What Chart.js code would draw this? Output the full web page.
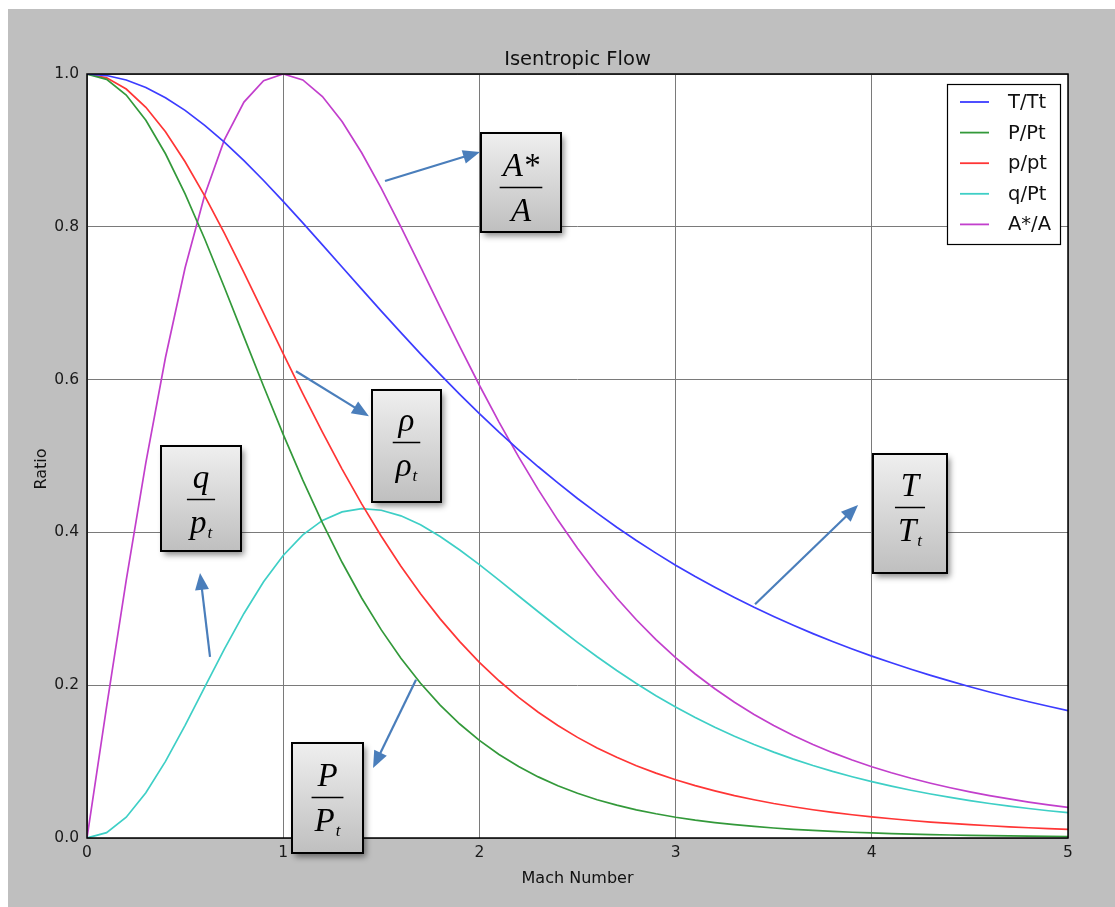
<!DOCTYPE html>
<html>
<head>
<meta charset="utf-8">
<script src="https://cdn.jsdelivr.net/npm/chart.js@4.4.1/dist/chart.umd.min.js"></script>
<style>
  html, body { margin: 0; padding: 0; background: #ffffff; }
  canvas { display: block; }
</style>
</head>
<body>
<canvas id="chart" width="1115" height="907"></canvas>
<script>
// Mach number samples
const machNumbers = [0.0,0.1,0.2,0.3,0.4,0.5,0.6,0.7,0.8,0.9,1.0,1.1,1.2,1.3,1.4,1.5,1.6,1.7,1.8,1.9,2.0,
  2.1,2.2,2.3,2.4,2.5,2.6,2.7,2.8,2.9,3.0,3.1,3.2,3.3,3.4,3.5,3.6,3.7,3.8,3.9,4.0,
  4.1,4.2,4.3,4.4,4.5,4.6,4.7,4.8,4.9,5.0];

// T/Tt
const tempRatio = [1.0000,0.9980,0.9921,0.9823,0.9690,0.9524,0.9328,0.9107,0.8865,0.8606,0.8333,
  0.8052,0.7764,0.7474,0.7184,0.6897,0.6614,0.6337,0.6068,0.5807,0.5556,
  0.5313,0.5081,0.4859,0.4647,0.4444,0.4252,0.4068,0.3894,0.3729,0.3571,
  0.3422,0.3281,0.3147,0.3019,0.2899,0.2784,0.2675,0.2572,0.2474,0.2381,
  0.2293,0.2208,0.2129,0.2053,0.1980,0.1911,0.1846,0.1783,0.1724,0.1667];

// P/Pt
const pressureRatio = [1.0000,0.9930,0.9725,0.9395,0.8956,0.8430,0.7840,0.7209,0.6560,0.5913,0.5283,
  0.4684,0.4124,0.3609,0.3142,0.2724,0.2353,0.2026,0.1740,0.1492,0.1278,
  0.1094,0.0935,0.0800,0.0684,0.0585,0.0501,0.0430,0.0369,0.0317,0.0272,
  0.0234,0.0202,0.0175,0.0151,0.0131,0.0114,0.0099,0.0086,0.0075,0.0066,
  0.0058,0.0051,0.0044,0.0039,0.0035,0.0031,0.0027,0.0024,0.0021,0.0019];

// p/pt (density ratio)
const densityRatio = [1.0000,0.9950,0.9803,0.9564,0.9243,0.8852,0.8405,0.7916,0.7400,0.6870,0.6339,
  0.5817,0.5311,0.4829,0.4374,0.3950,0.3557,0.3197,0.2868,0.2570,0.2300,
  0.2058,0.1841,0.1646,0.1472,0.1317,0.1179,0.1056,0.0946,0.0849,0.0762,
  0.0685,0.0617,0.0555,0.0501,0.0452,0.0409,0.0370,0.0335,0.0304,0.0277,
  0.0252,0.0229,0.0209,0.0191,0.0175,0.0160,0.0146,0.0134,0.0123,0.0113];

// q/Pt
const dynamicPressureRatio = [0.0000,0.0070,0.0272,0.0592,0.1003,0.1475,0.1976,0.2473,0.2939,0.3353,0.3698,
  0.3967,0.4157,0.4269,0.4311,0.4290,0.4217,0.4099,0.3946,0.3770,0.3578,
  0.3376,0.3168,0.2961,0.2758,0.2561,0.2372,0.2192,0.2022,0.1863,0.1715,
  0.1577,0.1450,0.1332,0.1224,0.1124,0.1033,0.0949,0.0872,0.0802,0.0738,
  0.0679,0.0625,0.0576,0.0531,0.0490,0.0452,0.0418,0.0386,0.0357,0.0331];

// A*/A
const areaRatio = [0.0000,0.1718,0.3374,0.4914,0.6289,0.7464,0.8416,0.9137,0.9632,0.9912,1.0000,
  0.9922,0.9705,0.9378,0.8969,0.8502,0.7999,0.7476,0.6949,0.6430,0.5926,
  0.5444,0.4988,0.4560,0.4161,0.3793,0.3453,0.3142,0.2857,0.2598,0.2362,
  0.2147,0.1953,0.1777,0.1617,0.1473,0.1342,0.1224,0.1117,0.1021,0.0933,
  0.0854,0.0782,0.0717,0.0658,0.0604,0.0555,0.0511,0.0470,0.0434,0.0400];

const seriesLabels = ['T/Tt', 'P/Pt', 'p/pt', 'q/Pt', 'A*/A'];
const seriesColors = ['#3c3cff', '#33993a', '#ff3535', '#3ecfc6', '#c23fcc'];
const seriesValues = [tempRatio, pressureRatio, densityRatio, dynamicPressureRatio, areaRatio];

const xTicks = [0, 1, 2, 3, 4, 5];
const yTicks = [0.0, 0.2, 0.4, 0.6, 0.8, 1.0];

// Callout boxes (corners and fraction bar in data units) with their arrows
const callouts = [
  { num: 'A*', den: 'A', sub: '',  x0: 2.008, x1: 2.416, y0: 0.7932, y1: 0.9228, bar: 0.8521 },
  { num: 'ρ',  den: 'ρ', sub: 't', x0: 1.453, x1: 1.804, y0: 0.4398, y1: 0.5864, bar: 0.5183 },
  { num: 'q',  den: 'p', sub: 't', x0: 0.377, x1: 0.785, y0: 0.3757, y1: 0.5131, bar: 0.4437 },
  { num: 'P',  den: 'P', sub: 't', x0: 1.045, x1: 1.407, y0: -0.0196, y1: 0.1243, bar: 0.0537 },
  { num: 'T',  den: 'T', sub: 't', x0: 4.006, x1: 4.383, y0: 0.3469, y1: 0.5026, bar: 0.4332 }
];
const arrows = [
  { from: [1.519, 0.860], to: [2.003, 0.898] },
  { from: [1.065, 0.611], to: [1.437, 0.552] },
  { from: [0.627, 0.237], to: [0.576, 0.347] },
  { from: [1.677, 0.207], to: [1.458, 0.0916] },
  { from: [3.405, 0.306], to: [3.930, 0.436] }
];

const SANS = '"DejaVu Sans", sans-serif';
const SERIF = '"Liberation Serif", "Times New Roman", serif';

const datasets = seriesLabels.map((label, i) => ({
  label: label,
  data: machNumbers.map((m, k) => ({ x: m, y: seriesValues[i][k] })),
  borderColor: seriesColors[i],
  backgroundColor: seriesColors[i],
  borderWidth: 1.7,
  pointRadius: 0,
  tension: 0,
  fill: false
}));

const backdrop = {
  id: 'backdrop',
  beforeDraw(chart) {
    const ctx = chart.ctx, a = chart.chartArea;
    ctx.save();
    ctx.fillStyle = '#ffffff';
    ctx.fillRect(0, 0, chart.width, chart.height);
    ctx.fillStyle = '#bfbfbf';
    ctx.fillRect(8, 9, chart.width - 8, chart.height - 9);
    ctx.fillStyle = '#ffffff';
    ctx.fillRect(a.left, a.top, a.right - a.left, a.bottom - a.top);
    ctx.restore();
  }
};

function drawArrow(ctx, x1, y1, x2, y2) {
  const ang = Math.atan2(y2 - y1, x2 - x1);
  const L = 17, W = 7;
  const bx = x2 - L * Math.cos(ang), by = y2 - L * Math.sin(ang);
  ctx.strokeStyle = '#4a7ebb';
  ctx.fillStyle = '#4a7ebb';
  ctx.lineWidth = 2.2;
  ctx.beginPath();
  ctx.moveTo(x1, y1);
  ctx.lineTo(bx + 2 * Math.cos(ang), by + 2 * Math.sin(ang));
  ctx.stroke();
  ctx.beginPath();
  ctx.moveTo(x2, y2);
  ctx.lineTo(bx - W * Math.sin(ang), by + W * Math.cos(ang));
  ctx.lineTo(bx + W * Math.sin(ang), by - W * Math.cos(ang));
  ctx.closePath();
  ctx.fill();
}

function drawCallout(ctx, c, xs, ys) {
  const left = Math.round(xs.getPixelForValue(c.x0)), right = Math.round(xs.getPixelForValue(c.x1));
  const top = Math.round(ys.getPixelForValue(c.y1)), bottom = Math.round(ys.getPixelForValue(c.y0));
  const w = right - left, h = bottom - top;
  const cx = (left + right) / 2;
  const barY = Math.round(ys.getPixelForValue(c.bar)) + 0.5;

  ctx.save();
  ctx.shadowColor = 'rgba(0,0,0,0.45)';
  ctx.shadowBlur = 6;
  ctx.shadowOffsetX = 3;
  ctx.shadowOffsetY = 4;
  const g = ctx.createLinearGradient(0, top, 0, bottom);
  g.addColorStop(0, '#efefef');
  g.addColorStop(1, '#bfbfbf');
  ctx.fillStyle = g;
  ctx.fillRect(left, top, w, h);
  ctx.restore();

  ctx.save();
  ctx.strokeStyle = '#000000';
  ctx.lineWidth = 2;
  ctx.strokeRect(left, top, w, h);

  ctx.fillStyle = '#000000';
  ctx.textBaseline = 'alphabetic';
  const bigFont = 'italic 33px ' + SERIF;
  const subFont = 'italic 17px ' + SERIF;

  ctx.font = bigFont;
  const numW = ctx.measureText(c.num).width;
  const denW = ctx.measureText(c.den).width;
  ctx.font = subFont;
  const subW = c.sub ? ctx.measureText(c.sub).width + 1 : 0;
  const barW = Math.max(numW, denW + subW) + 6;

  ctx.font = bigFont;
  ctx.textAlign = 'center';
  ctx.fillText(c.num, cx, barY - 12);

  ctx.strokeStyle = '#000000';
  ctx.lineWidth = 1.5;
  ctx.beginPath();
  ctx.moveTo(cx - barW / 2, barY);
  ctx.lineTo(cx + barW / 2, barY);
  ctx.stroke();

  ctx.textAlign = 'left';
  const dx = cx - (denW + subW) / 2;
  ctx.fillText(c.den, dx, barY + 33);
  if (c.sub) {
    ctx.font = subFont;
    ctx.fillText(c.sub, dx + denW + 1, barY + 38);
  }
  ctx.restore();
}

const overlay = {
  id: 'overlay',
  afterDatasetsDraw(chart) {
    const ctx = chart.ctx, a = chart.chartArea;
    // axes frame
    ctx.save();
    ctx.strokeStyle = '#000000';
    ctx.lineWidth = 1.5;
    ctx.strokeRect(a.left, a.top, a.right - a.left, a.bottom - a.top);
    ctx.restore();
  },
  afterDraw(chart) {
    const ctx = chart.ctx, a = chart.chartArea;
    const xs = chart.scales.x, ys = chart.scales.y;

    ctx.save();
    // title and axis labels
    ctx.fillStyle = '#111111';
    ctx.textAlign = 'center';
    ctx.textBaseline = 'alphabetic';
    ctx.font = '19.5px ' + SANS;
    ctx.fillText('Isentropic Flow', (a.left + a.right) / 2, 65);
    ctx.font = '16px ' + SANS;
    ctx.fillText('Mach Number', (a.left + a.right) / 2, 883);
    ctx.save();
    ctx.translate(46, 469);
    ctx.rotate(-Math.PI / 2);
    ctx.fillText('Ratio', 0, 0);
    ctx.restore();

    // legend
    const lx = 947, ly = 84, lw = 113, lh = 160;
    ctx.fillStyle = '#ffffff';
    ctx.fillRect(lx, ly, lw, lh);
    ctx.strokeStyle = '#000000';
    ctx.lineWidth = 1.2;
    ctx.strokeRect(lx + 0.5, ly + 0.5, lw, lh);
    ctx.font = '19.5px ' + SANS;
    ctx.textAlign = 'left';
    ctx.textBaseline = 'middle';
    chart.data.datasets.forEach((ds, i) => {
      const y = 102 + i * 30.6;
      ctx.strokeStyle = ds.borderColor;
      ctx.lineWidth = 1.8;
      ctx.beginPath();
      ctx.moveTo(960, y);
      ctx.lineTo(989, y);
      ctx.stroke();
      ctx.fillStyle = '#111111';
      ctx.fillText(ds.label, 1008, y + 1);
    });
    ctx.restore();

    // arrows and callouts
    ctx.save();
    arrows.forEach(ar => drawArrow(ctx,
      xs.getPixelForValue(ar.from[0]), ys.getPixelForValue(ar.from[1]),
      xs.getPixelForValue(ar.to[0]), ys.getPixelForValue(ar.to[1])));
    ctx.restore();
    callouts.forEach(c => drawCallout(ctx, c, xs, ys));
  }
};

new Chart(document.getElementById('chart'), {
  type: 'line',
  data: { datasets: datasets },
  options: {
    responsive: false,
    animation: false,
    devicePixelRatio: 1,
    layout: { padding: { left: 0, top: 74, right: 47, bottom: 0 } },
    plugins: {
      legend: { display: false },
      title: { display: false },
      tooltip: { enabled: false }
    },
    scales: {
      x: {
        type: 'linear',
        min: xTicks[0],
        max: xTicks[xTicks.length - 1],
        afterFit(scale) { scale.height = 69; },
        afterBuildTicks(scale) { scale.ticks = xTicks.map(v => ({ value: v })); },
        ticks: {
          color: '#1a1a1a',
          font: { family: SANS, size: 15.5 },
          padding: 6,
          maxRotation: 0,
          callback: v => String(v)
        },
        grid: { color: '#7a7a7a', lineWidth: 1, drawTicks: false },
        border: { display: false }
      },
      y: {
        type: 'linear',
        min: yTicks[0],
        max: yTicks[yTicks.length - 1],
        afterFit(scale) { scale.width = 87; },
        afterBuildTicks(scale) { scale.ticks = yTicks.map(v => ({ value: v })); },
        ticks: {
          color: '#1a1a1a',
          font: { family: SANS, size: 15.5 },
          padding: 8,
          callback: v => Number(v).toFixed(1)
        },
        grid: { color: '#7a7a7a', lineWidth: 1, drawTicks: false },
        border: { display: false }
      }
    }
  },
  plugins: [backdrop, overlay]
});
</script>
</body>
</html>
